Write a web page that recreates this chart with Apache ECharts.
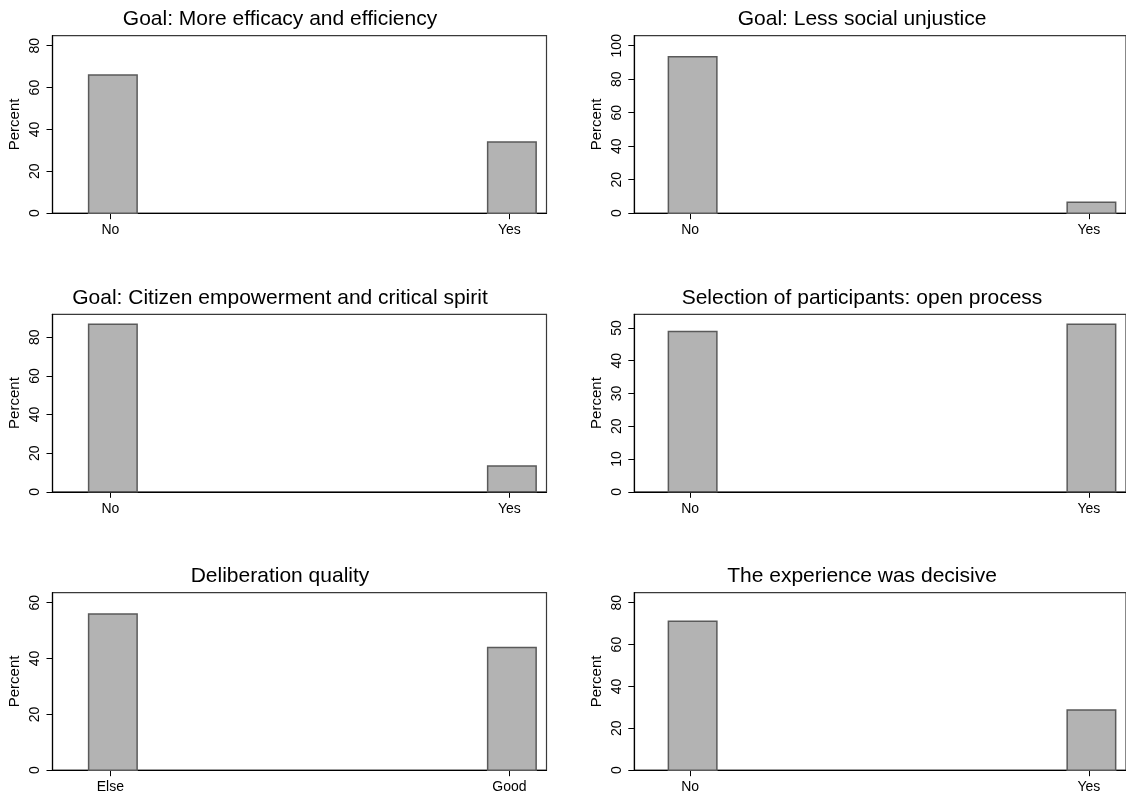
<!DOCTYPE html>
<html>
<head>
<meta charset="utf-8">
<script src="https://cdn.jsdelivr.net/npm/echarts@6/dist/echarts.min.js"></script>
<style>
  html, body { margin: 0; padding: 0; background: #fff; }
  #chart { width: 1126px; height: 800px; }
</style>
</head>
<body>
<div id="chart"></div>
<script>
// ---- data ----
const titles = [
  'Goal: More efficacy and efficiency',
  'Goal: Less social unjustice',
  'Goal: Citizen empowerment and critical spirit',
  'Selection of participants: open process',
  'Deliberation quality',
  'The experience was decisive'
];
const categories = [
  ['No', 'Yes'],
  ['No', 'Yes'],
  ['No', 'Yes'],
  ['No', 'Yes'],
  ['Else', 'Good'],
  ['No', 'Yes']
];
const percents = [
  [66.0, 34.0],
  [93.4, 6.6],
  [86.7, 13.3],
  [48.9, 51.1],
  [56.0, 44.0],
  [71.2, 28.8]
];
const yTicks = [
  [0, 20, 40, 60, 80],
  [0, 20, 40, 60, 80, 100],
  [0, 20, 40, 60, 80],
  [0, 10, 20, 30, 40, 50],
  [0, 20, 40, 60],
  [0, 20, 40, 60, 80]
];
const yAxisTitle = 'Percent';

// ---- layout ----
const FONT = '"Liberation Sans", Arial, Helvetica, sans-serif';
const colLeft = [52.5, 634.3];
const colXMin = [-0.145, -0.14];
const xMax = 1.093;
const rowTop = [35.7, 314.3, 592.7];
const plotW = 494;
const plotH = 177.5;
const titleCenter = [280, 862];
const BAR_W = 48.5;      // px
const BAR_SHIFT = 2.5;   // px, bar drawn slightly right of its tick (as in reference)

function barRender(params, api) {
  const top = api.coord([api.value(0), api.value(1)]);
  const base = api.coord([api.value(0), 0]);
  return {
    type: 'rect',
    shape: { x: top[0] - BAR_W / 2 + BAR_SHIFT, y: top[1], width: BAR_W, height: base[1] - top[1] },
    style: { fill: '#b3b3b3', stroke: '#5a5a5a', lineWidth: 1.5 }
  };
}

const grids = [], xAxes = [], yAxes = [], series = [], titleList = [];
for (let i = 0; i < 6; i++) {
  const col = i % 2, row = Math.floor(i / 2);
  const cats = categories[i];
  const vals = percents[i];
  const ticks = yTicks[i];
  const yMax = Math.max(ticks[ticks.length - 1], Math.max.apply(null, vals)) * 1.06;

  grids.push({
    left: colLeft[col], top: rowTop[row], width: plotW, height: plotH,
    show: true, borderColor: '#3a3a3a', borderWidth: 1.2, backgroundColor: '#fff'
  });
  xAxes.push({
    type: 'value', gridIndex: i, min: colXMin[col], max: xMax,
    splitLine: { show: false },
    axisLine: { show: true, onZero: false, lineStyle: { color: '#000', width: 1.2 } },
    axisTick: { show: true, customValues: [0, 1], length: 6, lineStyle: { color: '#000', width: 1 } },
    axisLabel: {
      customValues: [0, 1], margin: 10,
      formatter: v => cats[Math.round(v)],
      color: '#000', fontFamily: FONT, fontSize: 14
    }
  });
  yAxes.push({
    type: 'value', gridIndex: i, min: 0, max: yMax,
    name: yAxisTitle, nameLocation: 'middle', nameRotate: 90, nameGap: 30,
    nameTextStyle: { color: '#000', fontFamily: FONT, fontSize: 15 },
    splitLine: { show: false },
    axisLine: { show: true, onZero: false, lineStyle: { color: '#000', width: 1.2 } },
    axisTick: { show: true, customValues: ticks, length: 6, lineStyle: { color: '#000', width: 1 } },
    axisLabel: {
      customValues: ticks, rotate: 90, margin: 10,
      color: '#000', fontFamily: FONT, fontSize: 14
    }
  });
  series.push({
    type: 'custom', xAxisIndex: i, yAxisIndex: i,
    renderItem: barRender,
    encode: { x: 0, y: 1 },
    data: vals.map((v, k) => [k, v]),
    silent: true
  });
  titleList.push({
    text: titles[i], left: titleCenter[col], top: rowTop[row] - 27, textAlign: 'center', padding: 0,
    textStyle: { color: '#000', fontFamily: FONT, fontSize: 21, fontWeight: 'normal' }
  });
}

const chart = echarts.init(document.getElementById('chart'), null, { renderer: 'canvas' });
chart.setOption({
  animation: false,
  backgroundColor: '#fff',
  title: titleList,
  grid: grids,
  xAxis: xAxes,
  yAxis: yAxes,
  series: series
});
</script>
</body>
</html>
